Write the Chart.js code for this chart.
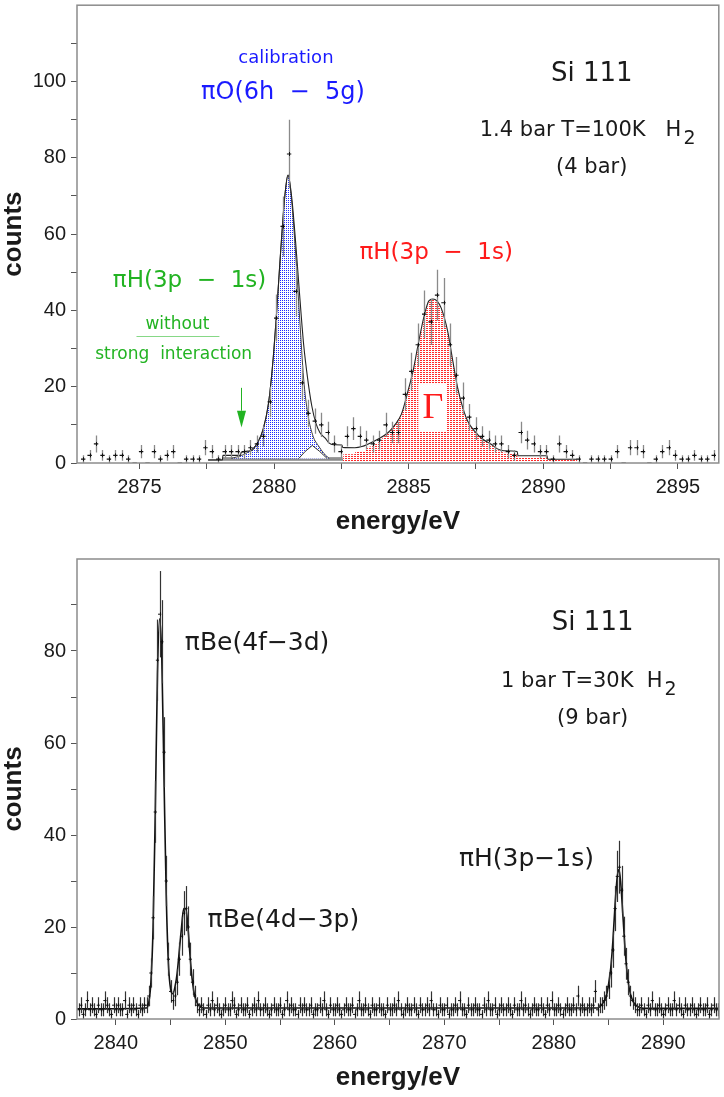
<!DOCTYPE html>
<html>
<head>
<meta charset="utf-8">
<script src="https://cdn.jsdelivr.net/npm/chart.js@4.4.1/dist/chart.umd.min.js"></script>
<style>
  html, body { margin: 0; padding: 0; background: #fff; }
  canvas { display: block; }
</style>
</head>
<body>
<canvas id="topChart" width="724" height="550"></canvas>
<canvas id="bottomChart" width="724" height="547"></canvas>
<script>
const BLUE = '#1a1aff', RED = '#ff1a1a', GREEN = '#22b322', INK = '#1a1a1a';

// ---- top spectrum: Si 111, 1.4 bar / 100 K H2 ----
const topStart = 2872.91;   // centre of first bin (eV)
const topStep = 0.239;      // bin width (eV)
const topCounts = [
  1, 2, 5, 2, 1, 2, 2, 1, 0, 3,
  0, 3, 1, 2, 3, 0, 1, 1, 1, 4,
  3, 1, 3, 3, 3, 3, 4, 5, 7, 16,
  38, 62, 81, 45, 21, 13, 11, 10, 8, 5,
  3, 7, 9, 7, 6, 5, 6, 10, 8, 8,
  18, 24, 31, 39, 37, 44, 42, 31, 23, 17,
  12, 9, 7, 6, 5, 5, 3, 2, 8, 6,
  5, 3, 3, 1, 5, 3, 2, 1, 0, 1,
  1, 1, 1, 3, 0, 4, 4, 3, 0, 1,
  3, 4, 2, 1, 1, 2, 1, 1, 2, 1
];
const topXTicks = [2875, 2877.5, 2880, 2882.5, 2885, 2887.5, 2890, 2892.5, 2895];
const topXLabels = [2875, 2880, 2885, 2890, 2895];
const topYTicks = [0, 10, 20, 30, 40, 50, 60, 70, 80, 90, 100, 110];
const topYLabels = [0, 20, 40, 60, 80, 100];

// total fit
const fitTotalE = [2877.55, 2878.08, 2878.1, 2878.75, 2878.78, 2879.15, 2879.4, 2879.6, 2879.8, 2879.95,
  2880.1, 2880.25, 2880.4, 2880.52, 2880.65, 2880.8, 2880.95, 2881.1, 2881.25, 2881.4,
  2881.55, 2881.7, 2881.9, 2882.05, 2882.2, 2882.52, 2882.55, 2883.0, 2883.26, 2883.5,
  2883.87, 2884.24, 2884.49, 2884.73, 2884.98, 2885.16, 2885.35, 2885.59, 2885.75, 2885.9,
  2886.05, 2886.21, 2886.45, 2886.64, 2886.82, 2887.01, 2887.19, 2887.44, 2887.74, 2888.05,
  2888.3, 2888.54, 2889.03, 2889.06, 2890.14, 2890.17, 2891.25];
const fitTotalV = [0.8, 0.8, 2.0, 2.0, 2.8, 3.2, 5.5, 9, 16, 26,
  40, 56, 70, 75.5, 70, 58, 44, 31, 22, 15,
  10.5, 8, 6.5, 5.2, 4.8, 4.7, 4.1, 4.0, 4.3, 5,
  6.3, 8, 10, 12.8, 19, 24, 31, 39, 42.5, 43,
  42.5, 40.6, 34.5, 26.7, 19.7, 14.5, 11, 8.4, 6.3, 5,
  3.7, 3.2, 3.0, 1.9, 1.9, 1.0, 1.0];
// calibration line piO(6h-5g)
const calibE = [2878.4, 2878.8, 2879.1, 2879.4, 2879.6, 2879.8, 2879.95, 2880.1, 2880.25, 2880.4,
  2880.52, 2880.65, 2880.8, 2880.95, 2881.1, 2881.25, 2881.45, 2881.65, 2881.85, 2882.05];
const calibV = [1.2, 2.0, 3.2, 5.5, 9, 16, 26, 40, 56, 70,
  75.5, 69, 55, 38, 22, 13, 7, 4.5, 2.5, 1.2];
// piH(3p-1s) line
const hydroE = [2882.56, 2882.57, 2883.0, 2883.02, 2883.4, 2883.42, 2883.7, 2883.9, 2884.1, 2884.3,
  2884.5, 2884.75, 2885.0, 2885.2, 2885.4, 2885.6, 2885.78, 2885.92, 2886.06, 2886.22,
  2886.45, 2886.65, 2886.83, 2887.02, 2887.2, 2887.45, 2887.75, 2888.05, 2888.3, 2888.55,
  2889.0, 2889.05, 2890.14, 2890.17, 2891.25, 2891.27];
const hydroV = [0.4, 2.3, 2.3, 3.0, 3.0, 4.0, 4.6, 5.6, 7, 8.5,
  10.2, 13, 19, 24.5, 32, 39, 42.5, 43, 42, 40,
  34, 26.5, 19.5, 14.2, 10.8, 8.2, 6.2, 4.8, 3.5, 2.7,
  2.4, 1.6, 1.6, 0.9, 0.9, 0.4];
// small satellite component
const satE = [2880.92, 2881.15, 2881.42, 2881.7, 2881.97];
const satV = [1.2, 3.0, 4.6, 3.0, 1.2];
const satInnerE = [2881.0, 2881.42, 2881.9];
const satInnerV = [1.2, 3.3, 1.2];
// background levels
const bgLowE = [2877.55, 2890.2];
const bgLowV = [0.8, 0.8];
const bgHighE = [2878.1, 2882.55];
const bgHighV = [1.3, 1.3];

// ---- bottom spectrum: Si 111, 1 bar / 30 K H2 ----
const botStart = 2836.6;
const botStep = 0.2;
const botCounts = [
  2, 3, 1, 2, 4, 2, 3, 2, 1, 3, 2, 2, 4, 3, 2, 1, 3, 2, 3, 2,
  2, 4, 1, 3, 2, 3, 2, 1, 3, 2, 3,
  3, 5, 10, 22, 45, 78, 88, 82, 58, 30, 13, 6, 4, 5, 8, 13, 18, 23, 24, 20, 13, 8, 5, 3,
  2, 3, 2, 1, 3, 2, 4, 2, 3, 2,
  1, 2, 3, 2, 2, 4, 3, 1, 2, 3,
  2, 2, 3, 1, 2, 3, 2, 4, 2, 2,
  3, 2, 1, 2, 3, 2, 2, 3, 1, 2,
  4, 2, 3, 2, 2, 1, 3, 2, 3, 2,
  2, 3, 1, 2, 2, 3, 2, 4, 2, 1,
  3, 2, 2, 3, 2, 1, 2, 3, 2, 2,
  3, 1, 2, 4, 2, 2, 3, 2, 1, 3,
  2, 2, 3, 2, 2, 1, 3, 2, 2, 3,
  2, 4, 2, 1, 2, 3, 2, 2, 3, 2,
  1, 3, 2, 2, 3, 2, 4, 2, 2, 1,
  3, 2, 2, 3, 1, 2, 2, 3, 2, 4,
  2, 2, 1, 3, 2, 2, 3, 2, 2, 1,
  3, 2, 4, 2, 2, 3, 1, 2, 3, 2,
  2, 3, 2, 1, 3, 2, 2, 4, 2, 3,
  2, 1, 2, 3, 2, 2, 3, 2, 1, 3,
  2, 4, 2, 2, 3, 2, 1, 2, 3, 2,
  2, 3, 2, 5, 2, 3, 2, 2, 3, 2,
  3, 6, 2, 3, 3, 4,
  5, 7, 10, 15, 24, 31, 33, 28, 18, 12, 8, 5, 4,
  3, 2, 2, 3, 2, 1, 3, 2, 4, 2,
  2, 3, 2, 1, 2, 3, 2, 2, 4, 2,
  3, 2, 1, 3, 2, 2, 3, 2, 1, 2,
  3, 2, 2, 3, 1, 2, 3, 2, 2
];
// fitted profile of the bottom spectrum
const botFitE = [2836.45, 2842.8, 2843.0, 2843.2, 2843.4, 2843.6, 2843.8, 2844.0, 2844.2, 2844.4,
  2844.6, 2844.8, 2845.0, 2845.2, 2845.4, 2845.6, 2845.8, 2846.0, 2846.2, 2846.4,
  2846.6, 2846.8, 2847.0, 2847.2, 2847.5, 2848.0, 2884.0, 2884.5, 2884.8, 2885.0,
  2885.2, 2885.4, 2885.6, 2885.8, 2885.95, 2886.1, 2886.3, 2886.5, 2886.7, 2886.9,
  2887.2, 2887.6, 2888.2, 2895.09];
const botFitV = [2.2, 2.4, 3.5, 8, 20, 45, 75, 87, 78, 52,
  27, 12, 6.5, 5.5, 7, 10, 15, 20, 24, 24,
  19.5, 13, 8, 5, 3.2, 2.4, 2.4, 3.5, 5, 7.5,
  11, 17, 25, 31, 32.5, 30, 23, 15.5, 10, 6.5,
  4, 2.8, 2.3, 2.3];
const botXTicks = [2840, 2845, 2850, 2855, 2860, 2865, 2870, 2875, 2880, 2885, 2890];
const botXLabels = [2840, 2850, 2860, 2870, 2880, 2890];
const botYTicks = [0, 10, 20, 30, 40, 50, 60, 70, 80, 90];
const botYLabels = [0, 20, 40, 60, 80];

const pointsOf = (xs, ys) => xs.map((x, i) => ({ x: x, y: ys[i] }));
const binsOf = (start, step, counts) => counts.map((c, i) => ({ x: start + i * step, y: c }));

function dotPattern(canvasId, color, w, h, dw) {
  const tile = document.createElement('canvas');
  tile.width = w; tile.height = h;
  const g = tile.getContext('2d');
  g.fillStyle = '#fff'; g.fillRect(0, 0, w, h);
  g.fillStyle = color; g.fillRect(0, 0, dw, 1);
  return document.getElementById(canvasId).getContext('2d').createPattern(tile, 'repeat');
}

function axis(min, max, ticks, labels, size, isX) {
  return {
    type: 'linear', min: min, max: max,
    afterBuildTicks: a => { a.ticks = ticks.map(v => ({ value: v })); },
    afterFit: a => {
      if (isX) a.height = size; else a.width = size;
      a.paddingTop = 0; a.paddingBottom = 0; a.paddingLeft = 0; a.paddingRight = 0;
    },
    border: { display: false },
    grid: { drawOnChartArea: false, drawTicks: true, tickLength: 6, color: '#555', lineWidth: 1 },
    ticks: {
      autoSkip: false, maxRotation: 0, padding: isX ? 6 : 5, color: INK,
      font: { family: 'Liberation Sans', size: 20 },
      callback: v => labels.includes(v) ? String(v) : ''
    }
  };
}

// error bars (sqrt N) for the measured points
const errorBars = {
  id: 'errorBars',
  beforeDatasetDraw(chart, args) {
    const ds = chart.data.datasets[args.index];
    if (!ds.errBar) return;
    const { ctx, chartArea: ca, scales: { x, y } } = chart;
    ctx.save();
    ctx.beginPath(); ctx.rect(ca.left, ca.top, ca.width, ca.height); ctx.clip();
    ds.data.forEach(p => {
      const err = Math.sqrt(p.y);
      if (!err) return;
      const px = Math.round(x.getPixelForValue(p.x)) + 0.5;
      const py = y.getPixelForValue(p.y);
      ctx.strokeStyle = ds.errBar.color; ctx.lineWidth = ds.errBar.width;
      ctx.beginPath();
      ctx.moveTo(px, y.getPixelForValue(p.y - err));
      ctx.lineTo(px, y.getPixelForValue(p.y + err));
      ctx.stroke();
      ctx.strokeStyle = '#111'; ctx.lineWidth = 1;
      ctx.beginPath(); ctx.moveTo(px, py - 2); ctx.lineTo(px, py + 2); ctx.stroke();
    });
    ctx.restore();
  }
};

function decorations(cfg) {
  return {
    id: 'decorations',
    afterDatasetsDraw(chart) {
      const { ctx, scales: { x, y } } = chart;
      ctx.save();
      (cfg.boxes || []).forEach(b => {
        const x1 = x.getPixelForValue(b.e1), x2 = x.getPixelForValue(b.e2);
        const y1 = y.getPixelForValue(b.v2), y2 = y.getPixelForValue(b.v1);
        ctx.fillStyle = '#fff'; ctx.fillRect(x1, y1, x2 - x1, y2 - y1);
      });
      (cfg.rules || []).forEach(r => {
        const py = Math.round(y.getPixelForValue(r.v)) + 0.5;
        ctx.strokeStyle = r.color; ctx.lineWidth = 1;
        ctx.beginPath(); ctx.moveTo(x.getPixelForValue(r.e1), py); ctx.lineTo(x.getPixelForValue(r.e2), py); ctx.stroke();
      });
      (cfg.arrows || []).forEach(a => {
        const px = Math.round(x.getPixelForValue(a.e)) + 0.5;
        const yh = y.getPixelForValue(a.head), yt = y.getPixelForValue(a.to);
        ctx.strokeStyle = a.color; ctx.fillStyle = a.color; ctx.lineWidth = 1;
        ctx.beginPath(); ctx.moveTo(px, y.getPixelForValue(a.from)); ctx.lineTo(px, yh); ctx.stroke();
        ctx.beginPath(); ctx.moveTo(px - 4.5, yh); ctx.lineTo(px + 4.5, yh); ctx.lineTo(px, yt); ctx.closePath(); ctx.fill();
      });
      (cfg.texts || []).forEach(t => {
        const px = x.getPixelForValue(t.e), py = y.getPixelForValue(t.v);
        ctx.font = t.font; ctx.fillStyle = t.color;
        ctx.letterSpacing = t.spacing || '0px';
        ctx.textAlign = t.align || 'center'; ctx.textBaseline = 'middle';
        ctx.fillText(t.text, px, py);
        if (t.sub) {
          const w = ctx.measureText(t.text).width;
          ctx.font = t.subFont; ctx.textAlign = 'left';
          ctx.fillText(t.sub, px + w + 2, py + 8);
        }
      });
      ctx.restore();
    },
    afterDraw(chart) {
      const { ctx, chartArea: ca } = chart;
      ctx.save();
      ctx.strokeStyle = '#8c8c8c'; ctx.lineWidth = 1.5;
      ctx.strokeRect(ca.left, ca.top, ca.right - ca.left, ca.bottom - ca.top);
      ctx.fillStyle = INK; ctx.font = 'bold 26px "Liberation Sans"';
      ctx.textAlign = 'center'; ctx.textBaseline = 'middle';
      ctx.fillText('energy/eV', (ca.left + ca.right) / 2, ca.bottom + 59);
      ctx.translate(14, (ca.top + ca.bottom) / 2);
      ctx.rotate(-Math.PI / 2);
      ctx.fillText('counts', 0, 0);
      ctx.restore();
    }
  };
}

const bluePattern = dotPattern('topChart', '#1f2cff', 2, 2, 1);
const redPattern = dotPattern('topChart', '#ff2a2a', 3, 2, 2);

new Chart(document.getElementById('topChart'), {
  type: 'line',
  data: {
    datasets: [
      { label: 'data', data: binsOf(topStart, topStep, topCounts), showLine: false,
        pointStyle: 'line', pointRadius: 2.2, borderColor: '#111', borderWidth: 1.2,
        errBar: { color: '#8a8a8a', width: 1.3 } },
      { label: 'fit', data: pointsOf(fitTotalE, fitTotalV), borderColor: '#222', borderWidth: 1.1,
        pointRadius: 0, fill: false, cubicInterpolationMode: 'monotone' },
      { label: 'satellite', data: pointsOf(satE, satV), borderColor: '#333', borderWidth: 1,
        pointRadius: 0, backgroundColor: '#fff', fill: { value: 1.2 } },
      { label: 'satellite inner', data: pointsOf(satInnerE, satInnerV), borderColor: '#666', borderWidth: 0.8,
        pointRadius: 0, fill: false },
      { label: 'calibration', data: pointsOf(calibE, calibV), borderColor: '#444', borderWidth: 1,
        pointRadius: 0, backgroundColor: bluePattern, fill: { value: 1.2 }, cubicInterpolationMode: 'monotone' },
      { label: 'piH', data: pointsOf(hydroE, hydroV), borderWidth: 0, borderColor: 'rgba(0,0,0,0)',
        pointRadius: 0, backgroundColor: redPattern, fill: { value: 0.4 } },
      { label: 'bg low', data: pointsOf(bgLowE, bgLowV), borderColor: '#333', borderWidth: 1, pointRadius: 0, fill: false },
      { label: 'bg high', data: pointsOf(bgHighE, bgHighV), borderColor: '#333', borderWidth: 1, pointRadius: 0, fill: false }
    ]
  },
  options: {
    responsive: false, animation: false, devicePixelRatio: 1, events: [],
    layout: { padding: { top: 2, right: 2, left: 0, bottom: 0 } },
    plugins: { legend: { display: false }, tooltip: { enabled: false } },
    scales: {
      x: axis(2872.68, 2896.52, topXTicks, topXLabels, 87, true),
      y: axis(0, 120, topYTicks, topYLabels, 77, false)
    }
  },
  plugins: [errorBars, decorations({
    boxes: [{ e1: 2885.36, e2: 2886.40, v1: 8.4, v2: 20.7 }],
    rules: [{ e1: 2874.89, e2: 2877.97, v: 33.2, color: '#86d886' }],
    arrows: [{ e: 2878.79, from: 19.7, head: 13.7, to: 9.3, color: GREEN }],
    texts: [
      { text: 'calibration', e: 2880.44, v: 106.2, color: BLUE, font: '18px "DejaVu Sans"' },
      { text: 'πO(6h  −  5g)', e: 2880.33, v: 97.1, color: BLUE, font: '24px "DejaVu Sans"' },
      { text: 'Si 111', e: 2891.8, v: 101.9, color: INK, font: '26px "DejaVu Sans"' },
      { text: '1.4 bar T=100K   H', sub: '2', e: 2887.64, v: 87.1, align: 'left', color: INK,
        font: '21px "DejaVu Sans"', subFont: '19px "DejaVu Sans"' },
      { text: '(4 bar)', e: 2891.8, v: 77.5, color: INK, font: '21px "DejaVu Sans"' },
      { text: 'πH(3p  −  1s)', e: 2886.02, v: 55, color: RED, font: '23px "DejaVu Sans"' },
      { text: 'πH(3p  −  1s)', e: 2876.86, v: 47.6, color: GREEN, font: '23px "DejaVu Sans"' },
      { text: 'without', e: 2876.41, v: 36.3, color: GREEN, font: '17px "DejaVu Sans"' },
      { text: 'strong  interaction', e: 2876.27, v: 28.4, color: GREEN, font: '17px "DejaVu Sans"' },
      { text: 'Γ', e: 2885.9, v: 14.3, color: RED, font: '36px "Liberation Serif"' }
    ]
  })]
});

new Chart(document.getElementById('bottomChart'), {
  type: 'line',
  data: {
    datasets: [
      { label: 'data', data: binsOf(botStart, botStep, botCounts), showLine: false,
        pointStyle: 'line', pointRadius: 1.6, borderColor: '#111', borderWidth: 1,
        errBar: { color: '#333', width: 1.2 } },
      { label: 'fit', data: pointsOf(botFitE, botFitV), borderColor: '#111', borderWidth: 1.6,
        pointRadius: 0, fill: false, cubicInterpolationMode: 'monotone' }
    ]
  },
  options: {
    responsive: false, animation: false, devicePixelRatio: 1, events: [],
    layout: { padding: { top: 9, right: 2, left: 0, bottom: 0 } },
    plugins: { legend: { display: false }, tooltip: { enabled: false } },
    scales: {
      x: axis(2836.45, 2895.09, botXTicks, botXLabels, 78, true),
      y: axis(0, 100, botYTicks, botYLabels, 77, false)
    }
  },
  plugins: [errorBars, decorations({
    texts: [
      { text: 'Si 111', e: 2883.55, v: 86.0, color: INK, font: '26px "DejaVu Sans"' },
      { text: '1 bar T=30K  H', sub: '2', e: 2875.18, v: 73.3, align: 'left', color: INK,
        font: '21px "DejaVu Sans"', subFont: '19px "DejaVu Sans"' },
      { text: '(9 bar)', e: 2883.55, v: 65.4, color: INK, font: '21px "DejaVu Sans"' },
      { text: 'πBe(4f−3d)', e: 2852.9, v: 81.7, color: INK, font: '25px "DejaVu Sans"' },
      { text: 'πBe(4d−3p)', e: 2855.3, v: 21.5, color: INK, font: '25px "DejaVu Sans"' },
      { text: 'πH(3p−1s)', e: 2877.5, v: 34.6, color: INK, font: '25px "DejaVu Sans"' }
    ]
  })]
});
</script>
</body>
</html>
